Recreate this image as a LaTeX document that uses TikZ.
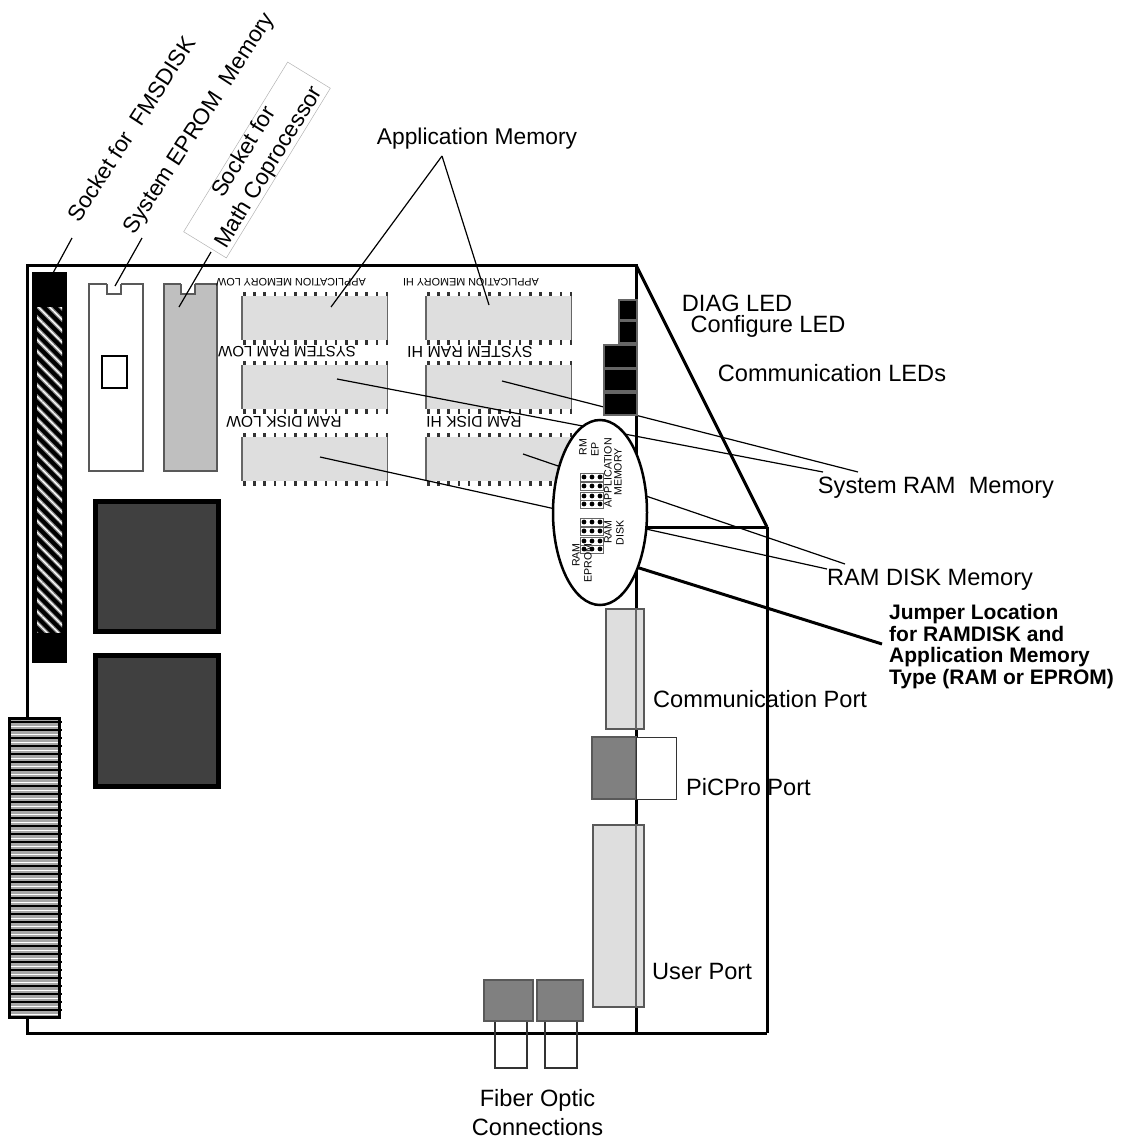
\documentclass[tikz,border=0pt]{standalone}
\usepackage{fontspec}
\setmainfont{Liberation Sans}
\usetikzlibrary{arrows.meta, positioning, shapes.geometric, patterns.meta}
\tikzset{
    lbl/.style={inner sep=0pt, font=\fontsize{23.6}{29}\selectfont},
    lblrot/.style={inner sep=0pt, rotate=57, font=\fontsize{22.6}{29}\selectfont},
    chiptxt/.style={inner sep=0pt, rotate=180},
    jmptxt/.style={inner sep=0pt, rotate=90, font=\fontsize{10.6}{12}\selectfont},
    leader/.style={line width=1.2pt},
    graybox/.style={draw=black!65, line width=1.4pt},
    ledbox/.style={draw=black!60, line width=1.2pt, fill=black},
}
\begin{document}
\begin{tikzpicture}[x=1pt, y=-1pt]
    \useasboundingbox (0,0) rectangle (1123,1140);

    % Board outline
    \draw[line width=3pt] (27,265) rectangle (636,1033);
    \draw[line width=3pt] (636,265) -- (767,527);
    \draw[line width=3pt] (636,527) -- (767,527);
    \draw[line width=3pt] (636,1033) -- (767,1033);

    % Socket for disk
    \fill[black] (32,272) rectangle (67,663);
    \fill[pattern={Lines[angle=-45, distance=8pt, line width=3.6pt]}, pattern color=black!45] (37,307) rectangle (62,632);
    \fill[pattern={Lines[angle=-45, distance=8pt, line width=1.2pt]}, pattern color=white] (37,307) rectangle (62,632);

    % EPROM and coprocessor
    \draw[graybox, fill=white] (89,284) rectangle (143,471);
    \fill[white] (107,283) rectangle (121,294);
    \draw[graybox] (107,284) -- (107,294) -- (121,294) -- (121,284);
    \draw[line width=2.5pt, fill=white] (102,356) rectangle (127,388);
    \draw[graybox, fill=black!25] (164,284) rectangle (217,471);
    \fill[white] (181,283) rectangle (195,294);
    \draw[graybox] (181,284) -- (181,294) -- (195,294) -- (195,284);

    % Two large chips
    \draw[line width=5pt, fill=black!75] (95.5,501.5) rectangle (218.5,631.5);
    \draw[line width=5pt, fill=black!75] (95.5,655.5) rectangle (218.5,786.5);

    % Memory chips
    \foreach \cx in {242,426} {
        \foreach \cy in {296,365,437} {
            \fill[black!13] (\cx,\cy) rectangle ++(145.5,44);
            \draw[black!60, line width=1.2pt] (\cx,\cy) -- ++(0,44) ++(145.5,0) -- ++(0,-44);
            \foreach \i in {0,...,14} {
                \fill[black!80] (\cx+1+\i*10.2,\cy-4.5) rectangle ++(2.6,4.5);
                \fill[black!80] (\cx+1+\i*10.2,\cy+44) rectangle ++(2.6,4.5);
            }
        }
    }

    % Text on the chips
    \node[chiptxt, font=\fontsize{10.8}{12}\selectfont] (appLowTxt) at (291,282) {APPLICATION MEMORY LOW};
    \node[chiptxt, font=\fontsize{10.8}{12}\selectfont] (appHiTxt) at (471,282) {APPLICATION MEMORY HI};
    \node[chiptxt, font=\fontsize{15}{16}\selectfont] (sysLowTxt) at (287,352) {SYSTEM RAM LOW};
    \node[chiptxt, font=\fontsize{15.9}{16}\selectfont] (sysHiTxt) at (470,352) {SYSTEM RAM HI};
    \node[chiptxt, font=\fontsize{15.6}{16}\selectfont] (diskLowTxt) at (284,422) {RAM DISK LOW};
    \node[chiptxt, font=\fontsize{15.6}{16}\selectfont] (diskHiTxt) at (474,422) {RAM DISK HI};

    % Labels
    \node[lblrot] (fmsLbl) at (131,129) {Socket for\ \ FMSDISK};
    \node[lblrot] (epromLbl) at (200,124) {System EPROM\ \ Memory};
    \node[lblrot, rotate=1.5, draw=black!30, line width=0.5pt, align=center, minimum width=199pt, minimum height=49pt] (mathLbl) at (257,160) {Socket for\\Math Coprocessor};
    \node[lbl, font=\fontsize{22.8}{29}\selectfont] (appLbl) at (477,139) {Application Memory};
    \node[lbl] (diagLbl) at (737,303) {DIAG LED};
    \node[lbl] (confLbl) at (768,326) {Configure LED};
    \node[lbl] (commLedLbl) at (832,373) {Communication LEDs};
    \node[lbl] (sysLbl) at (936,488) {System RAM\ \ Memory};
    \node[lbl] (diskLbl) at (930,580) {RAM DISK Memory};
    \node[inner sep=0pt, align=left, anchor=north west, font=\bfseries\fontsize{21}{21.7}\selectfont] (jmpLbl) at (889,604) {Jumper Location\\for RAMDISK and\\Application Memory\\Type (RAM or EPROM)};

    % Ends of the leaders
    \coordinate (fmsEnd) at (53,273);
    \coordinate (fmsTop) at (72,238);
    \coordinate (epromEnd) at (115,286);
    \coordinate (epromTop) at (142,238);
    \coordinate (mathEnd) at (179,307);
    \coordinate (mathTop) at (211,252);
    \coordinate (appTop) at (442,156);
    \coordinate (appLowEnd) at (331,307);
    \coordinate (appHiEnd) at (489,305);
    \coordinate (sysLowEnd) at (337,379);
    \coordinate (sysHiEnd) at (502,381);
    \coordinate (sysJoinA) at (823,472);
    \coordinate (sysJoinB) at (858,472);
    \coordinate (diskLowEnd) at (320,457);
    \coordinate (diskHiEnd) at (523,454);
    \coordinate (diskJoinA) at (827,569);
    \coordinate (diskJoinB) at (845,564);
    \coordinate (jmpStart) at (636,567);
    \coordinate (jmpEnd) at (882,644);

    \draw[leader] (fmsTop) -- (fmsEnd);
    \draw[leader] (epromTop) -- (epromEnd);
    \draw[leader] (mathTop) -- (mathEnd);
    \draw[leader] (appTop) -- (appLowEnd);
    \draw[leader] (appTop) -- (appHiEnd);
    \draw[leader] (sysJoinA) -- (sysLowEnd);
    \draw[leader] (sysJoinB) -- (sysHiEnd);
    \draw[leader] (diskJoinA) -- (diskLowEnd);
    \draw[leader] (diskJoinB) -- (diskHiEnd);
    \draw[line width=3pt] (jmpStart) -- (jmpEnd);

    % LEDs
    \draw[ledbox] (619,300) rectangle (637,320);
    \draw[ledbox] (619,321) rectangle (637,343);
    \draw[ledbox] (604,345) rectangle (637,368);
    \draw[ledbox] (604,369) rectangle (637,391);
    \draw[ledbox] (604,393) rectangle (637,415);

    % Jumper oval
    \node[ellipse, draw, line width=2.5pt, fill=white, minimum width=94pt, minimum height=185pt, inner sep=0pt] (jmpOval) at (600,512.5) {};
    \foreach \jy in {477,486,496,504,522,531,541,549} {
        \draw[black!60, line width=0.8pt] (580,\jy-4) rectangle (603,\jy+4);
        \foreach \jx in {584,592,600} {
            \fill (\jx,\jy) circle (2.4pt);
        }
    }
    \node[jmptxt] (rmTxt) at (583,447) {RM};
    \node[jmptxt] (epTxt) at (595,449) {EP};
    \node[jmptxt] (appJmpTxt) at (608,473) {APPLICATION};
    \node[jmptxt] (memJmpTxt) at (618,472) {MEMORY};
    \node[jmptxt] (ramTxt) at (576,555) {RAM};
    \node[jmptxt] (epromTxt) at (588,563) {EPROM};
    \node[jmptxt] (ramDiskTxt) at (608,532) {RAM};
    \node[jmptxt] (diskTxt) at (620,533) {DISK};

    % Ports
    \draw[graybox, fill=black!13] (606,609) rectangle (644,729);
    \draw[black!60, line width=1.4pt] (636,609) -- (636,729);
    \draw[graybox, fill=black!50] (592,737) rectangle (636,799);
    \draw[black!80, line width=1pt, fill=white] (636,737) rectangle (676,799);
    \draw[graybox, fill=black!13] (593,825) rectangle (644,1007);
    \draw[black!60, line width=1.4pt] (636,825) -- (636,1007);
    \node[lbl, anchor=west] (commLbl) at (653,699) {Communication Port};
    \node[lbl, anchor=west] (picLbl) at (686,787) {PiCPro Port};
    \node[lbl, anchor=west] (userLbl) at (652,971) {User Port};
    \draw[line width=3pt] (767,527) -- (767,1033);

    % Fiber optic connectors
    \draw[black!80, line width=1.2pt] (495,1021) rectangle (527,1068);
    \draw[black!80, line width=1.2pt] (545,1021) rectangle (577,1068);
    \draw[graybox, fill=black!50] (484,980) rectangle (533,1021);
    \draw[graybox, fill=black!50] (537,980) rectangle (583,1021);
    \node[lbl, align=center] (fiberLbl) at (537.5,1113) {Fiber Optic\\Connections};

    % Edge connector
    \draw[line width=3pt, fill=black!35] (9.5,718.5) rectangle (59.5,1017);
    \foreach \k in {0,...,36} {
        \draw[line width=2pt] (11,722+\k*8) -- (61.5,722+\k*8);
        \draw[white, line width=1pt] (11,726+\k*8) -- (58,726+\k*8);
    }
\end{tikzpicture}
\end{document}
